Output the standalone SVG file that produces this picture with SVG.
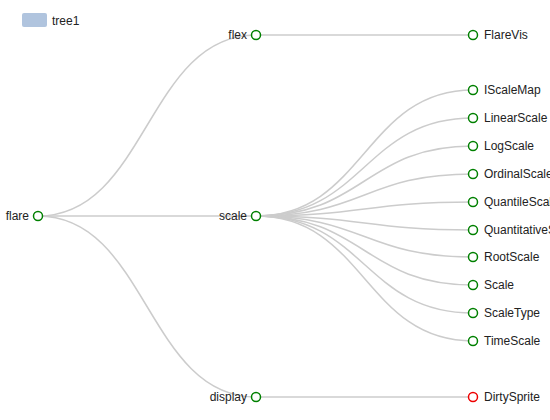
<svg xmlns="http://www.w3.org/2000/svg" width="550" height="420" viewBox="0 0 550 420">
<style>
.e{fill:none;stroke:#ccc;stroke-width:1.5}
.n{fill:#fff;stroke:#008000;stroke-width:1.5}
.r{fill:#fff;stroke:#e00;stroke-width:1.5}
text{font-family:"Liberation Sans",Arial,sans-serif;font-size:12px;fill:#222}
.l{text-anchor:end}
</style>
<rect width="550" height="420" fill="#fff"/>
<g id="legend"><rect x="22" y="13" width="25" height="14" rx="2" fill="#b0c4de"/><text x="52" y="24.5">tree1</text></g>
<g id="connectors">
<path class="e" d="M38 216C147 216 147 35 256 35"/>
<path class="e" d="M38 216C147 216 147 216 256 216"/>
<path class="e" d="M38 216C147 216 147 397 256 397"/>
<path class="e" d="M256 35C364.5 35 364.5 35 473 35"/>
<path class="e" d="M256 397C364.5 397 364.5 397 473 397"/>
<path class="e" d="M256 216C364.5 216 364.5 90 473 90"/>
<path class="e" d="M256 216C364.5 216 364.5 118 473 118"/>
<path class="e" d="M256 216C364.5 216 364.5 146 473 146"/>
<path class="e" d="M256 216C364.5 216 364.5 174 473 174"/>
<path class="e" d="M256 216C364.5 216 364.5 202 473 202"/>
<path class="e" d="M256 216C364.5 216 364.5 230 473 230"/>
<path class="e" d="M256 216C364.5 216 364.5 257 473 257"/>
<path class="e" d="M256 216C364.5 216 364.5 285 473 285"/>
<path class="e" d="M256 216C364.5 216 364.5 313 473 313"/>
<path class="e" d="M256 216C364.5 216 364.5 341 473 341"/>
</g>
<g id="flare"><circle class="n" cx="38" cy="216" r="4.5"/><text class="l" x="29" y="220">flare</text></g>
<g id="flex"><circle class="n" cx="256" cy="35" r="4.5"/><text class="l" x="247" y="39">flex</text></g>
<g id="scale"><circle class="n" cx="256" cy="216" r="4.5"/><text class="l" x="247" y="220">scale</text></g>
<g id="display"><circle class="n" cx="256" cy="397" r="4.5"/><text class="l" x="247" y="401">display</text></g>
<g id="FlareVis"><circle class="n" cx="473" cy="35" r="4.5"/><text x="484" y="39">FlareVis</text></g>
<g id="IScaleMap"><circle class="n" cx="473" cy="90" r="4.5"/><text x="484" y="94">IScaleMap</text></g>
<g id="LinearScale"><circle class="n" cx="473" cy="118" r="4.5"/><text x="484" y="122">LinearScale</text></g>
<g id="LogScale"><circle class="n" cx="473" cy="146" r="4.5"/><text x="484" y="150">LogScale</text></g>
<g id="OrdinalScale"><circle class="n" cx="473" cy="174" r="4.5"/><text x="484" y="178">OrdinalScale</text></g>
<g id="QuantileScale"><circle class="n" cx="473" cy="202" r="4.5"/><text x="484" y="206">QuantileScale</text></g>
<g id="QuantitativeScale"><circle class="n" cx="473" cy="230" r="4.5"/><text x="484" y="234">QuantitativeScale</text></g>
<g id="RootScale"><circle class="n" cx="473" cy="257" r="4.5"/><text x="484" y="261">RootScale</text></g>
<g id="Scale"><circle class="n" cx="473" cy="285" r="4.5"/><text x="484" y="289">Scale</text></g>
<g id="ScaleType"><circle class="n" cx="473" cy="313" r="4.5"/><text x="484" y="317">ScaleType</text></g>
<g id="TimeScale"><circle class="n" cx="473" cy="341" r="4.5"/><text x="484" y="345">TimeScale</text></g>
<g id="DirtySprite"><circle class="r" cx="473" cy="397" r="4.5"/><text x="484" y="401">DirtySprite</text></g>
</svg>
